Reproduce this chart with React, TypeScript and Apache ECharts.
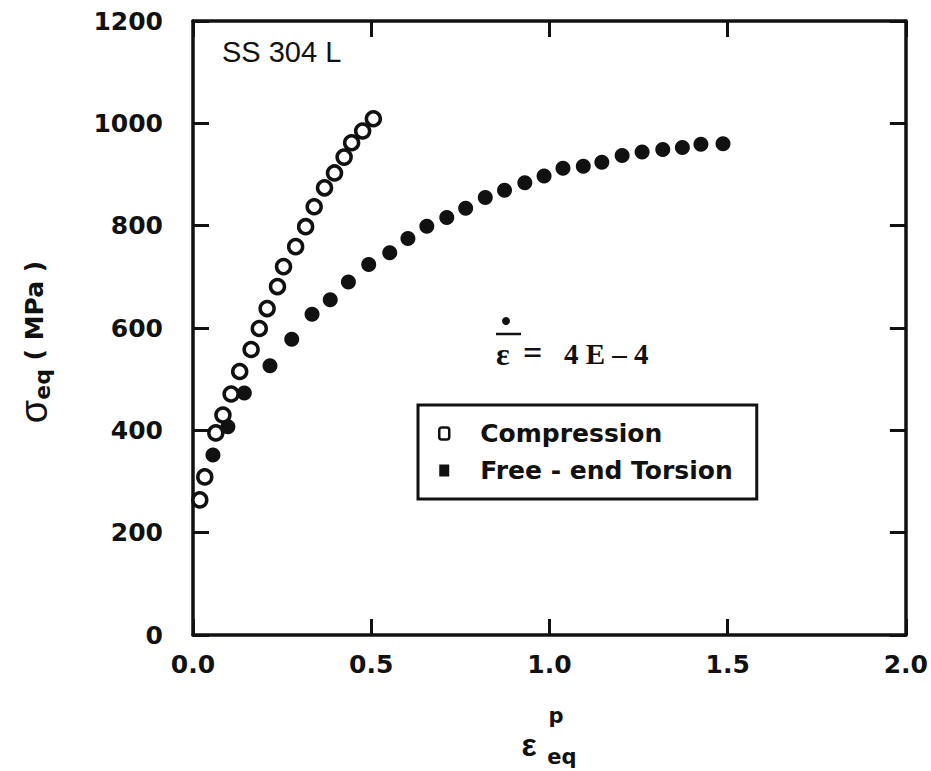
import React, { useEffect, useRef } from "react";
import * as echarts from "echarts";

// ---- Data ----
const compressionStrain = [0.019, 0.033, 0.064, 0.084, 0.107, 0.131, 0.163, 0.186, 0.208, 0.237, 0.254, 0.288, 0.316, 0.34, 0.369, 0.397, 0.424, 0.445, 0.476, 0.506];
const compressionStress = [264, 309, 395, 430, 471, 515, 558, 599, 638, 681, 720, 759, 798, 837, 874, 903, 934, 962, 985, 1009];
const torsionStrain = [0.056, 0.098, 0.144, 0.216, 0.277, 0.334, 0.385, 0.436, 0.493, 0.552, 0.603, 0.656, 0.712, 0.765, 0.82, 0.874, 0.931, 0.985, 1.038, 1.095, 1.147, 1.204, 1.26, 1.318, 1.373, 1.425, 1.487];
const torsionStress = [352, 407, 473, 526, 578, 627, 655, 690, 724, 747, 775, 799, 816, 834, 855, 869, 884, 897, 912, 916, 924, 937, 944, 949, 953, 959, 960];

const seriesNames = ["Compression", "Free - end Torsion"];
const xTicks = { min: 0, max: 2, interval: 0.5 };
const yTicks = { min: 0, max: 1200, interval: 200 };

const INK = "#111";
const SANS = "'DejaVu Sans', 'Liberation Sans', Arial, sans-serif";
const ARIAL = "'Liberation Sans', Arial, sans-serif";
const SERIF = "'Liberation Serif', 'DejaVu Serif', serif";

export default function App() {
  const ref = useRef<HTMLDivElement>(null);

  useEffect(() => {
    if (!ref.current) return;
    const chart = echarts.init(ref.current, undefined, { renderer: "svg" });

    const compData = compressionStrain.map((x, i) => [x, compressionStress[i]]);
    const torsData = torsionStrain.map((x, i) => [x, torsionStress[i]]);

    const axisLine = { show: true, onZero: false, lineStyle: { color: INK, width: 3.5 } };
    const axisTick = { show: true, inside: true, length: 16, lineStyle: { color: INK, width: 3 } };
    const tickFont = { color: INK, fontSize: 25, fontWeight: "bold" as const, fontFamily: SANS };

    chart.setOption({
      animation: false,
      backgroundColor: "#fff",
      title: {
        text: "SS 304 L",
        left: 217,
        top: 32,
        textStyle: { fontSize: 29, fontWeight: "normal", color: INK, fontFamily: ARIAL },
      },
      grid: { left: 193, top: 21, right: 18, bottom: 136, containLabel: false },
      xAxis: [
        {
          type: "value",
          position: "bottom",
          min: xTicks.min,
          max: xTicks.max,
          interval: xTicks.interval,
          axisLine,
          axisTick,
          splitLine: { show: false },
          axisLabel: { ...tickFont, margin: 17, formatter: (v: number) => v.toFixed(1) },
        },
        {
          type: "value",
          position: "top",
          min: xTicks.min,
          max: xTicks.max,
          interval: xTicks.interval,
          axisLine,
          axisTick,
          splitLine: { show: false },
          axisLabel: { show: false },
        },
      ],
      yAxis: [
        {
          type: "value",
          position: "left",
          min: yTicks.min,
          max: yTicks.max,
          interval: yTicks.interval,
          axisLine,
          axisTick,
          splitLine: { show: false },
          axisLabel: { ...tickFont, margin: 30, formatter: (v: number) => String(v) },
        },
        {
          type: "value",
          position: "right",
          min: yTicks.min,
          max: yTicks.max,
          interval: yTicks.interval,
          axisLine,
          axisTick,
          splitLine: { show: false },
          axisLabel: { show: false },
        },
      ],
      legend: {
        orient: "vertical",
        left: 418,
        top: 405,
        padding: [16, 24, 16, 20],
        borderColor: INK,
        borderWidth: 3,
        itemGap: 12,
        itemWidth: 10,
        itemHeight: 12,
        textStyle: { color: INK, fontSize: 25, fontWeight: "bold", fontFamily: SANS, padding: [0, 0, 0, 26] },
        data: [
          { name: seriesNames[0], icon: "roundRect", itemStyle: { color: "#fff", borderColor: INK, borderWidth: 2.5, opacity: 1 } },
          { name: seriesNames[1], icon: "rect", itemStyle: { color: INK, opacity: 1 } },
        ],
      },
      series: [
        {
          name: seriesNames[0],
          type: "scatter",
          xAxisIndex: 0,
          yAxisIndex: 0,
          data: compData,
          symbol: "circle",
          symbolSize: 14,
          itemStyle: { color: "#fff", borderColor: INK, borderWidth: 3.5, opacity: 1 },
          z: 3,
        },
        {
          name: seriesNames[1],
          type: "scatter",
          xAxisIndex: 0,
          yAxisIndex: 0,
          data: torsData,
          symbol: "circle",
          symbolSize: 15,
          itemStyle: { color: INK, opacity: 1 },
          z: 2,
        },
      ],
      graphic: [
        // y-axis name: sigma_eq ( MPa )
        {
          type: "text",
          x: 34,
          y: 342,
          rotation: Math.PI / 2,
          style: {
            text: "{s|σ}{sub|eq}{n| ( MPa )}",
            align: "center",
            verticalAlign: "middle",
            rich: {
              s: { fontSize: 38, fontFamily: ARIAL, fill: INK, fontWeight: "normal" },
              sub: { fontSize: 22, fontFamily: SANS, fontWeight: "bold", fill: INK, padding: [16, 0, 0, 0] },
              n: { fontSize: 25, fontFamily: SANS, fontWeight: "bold", fill: INK },
            },
          },
        },
        // x-axis name: epsilon^p_eq
        {
          type: "text",
          x: 529,
          y: 745,
          style: { text: "ε", fontSize: 32, fontFamily: ARIAL, fontWeight: "bold", fill: INK, align: "center", verticalAlign: "middle" },
        },
        {
          type: "text",
          x: 556,
          y: 716,
          style: { text: "p", fontSize: 21, fontFamily: SANS, fontWeight: "bold", fill: INK, align: "center", verticalAlign: "middle" },
        },
        {
          type: "text",
          x: 562,
          y: 757,
          style: { text: "eq", fontSize: 21, fontFamily: SANS, fontWeight: "bold", fill: INK, align: "center", verticalAlign: "middle" },
        },
        // strain-rate annotation
        { type: "circle", shape: { cx: 506, cy: 321, r: 4 }, style: { fill: INK } },
        { type: "line", shape: { x1: 496, y1: 334, x2: 521, y2: 334 }, style: { stroke: INK, lineWidth: 2.5 } },
        {
          type: "text",
          x: 496,
          y: 354,
          style: { text: "ε", fontSize: 32, fontFamily: SERIF, fontWeight: "bold", fill: INK, align: "left", verticalAlign: "middle" },
        },
        {
          type: "text",
          x: 523,
          y: 352,
          style: { text: "=", fontSize: 34, fontFamily: SERIF, fontWeight: "bold", fill: INK, align: "left", verticalAlign: "middle" },
        },
        {
          type: "text",
          x: 564,
          y: 354,
          style: { text: "4 E – 4", fontSize: 29, fontFamily: SERIF, fontWeight: "bold", fill: INK, align: "left", verticalAlign: "middle" },
        },
      ],
    });

    return () => chart.dispose();
  }, []);

  return <div ref={ref} style={{ width: 931, height: 771, position: "absolute", left: 0, top: 0 }} />;
}
